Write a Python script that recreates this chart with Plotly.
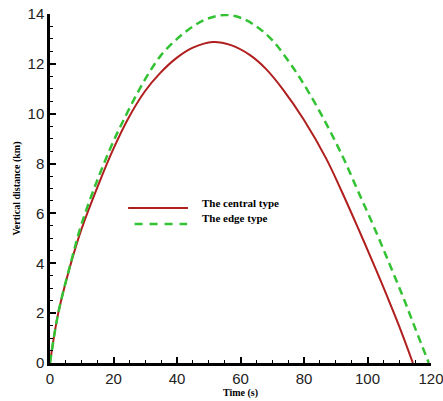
import plotly.graph_objects as go

# Data
t_central = [0, 2.6, 6.6, 10, 15.7, 20, 24.6, 29.9, 34.6, 40, 45, 51.3, 57, 63, 68, 73.4, 80, 87, 92, 97, 102, 106, 110, 114.3]
y_central = [0, 2.0, 4.0, 5.4, 7.3, 8.6, 9.8, 10.9, 11.62, 12.25, 12.65, 12.88, 12.75, 12.35, 11.8, 10.97, 9.75, 8.2, 6.85, 5.42, 3.95, 2.73, 1.47, 0]

t_edge = [0, 2.6, 6.6, 10, 15.1, 20, 23, 27.4, 31, 35, 40, 45, 50, 55.1, 60, 65, 70, 76, 81.3, 87, 92.3, 97, 102.4, 107, 111.2, 115, 119.3]
y_edge = [0, 2.0, 4.05, 5.6, 7.4, 8.9, 9.7, 10.8, 11.6, 12.35, 13.0, 13.5, 13.83, 13.96, 13.85, 13.5, 12.95, 11.95, 10.9, 9.6, 8.25, 6.9, 5.35, 3.95, 2.65, 1.4, 0]

series_names = ["The central type", "The edge type"]
x_ticks = [0, 20, 40, 60, 80, 100, 120]
y_ticks = [0, 2, 4, 6, 8, 10, 12, 14]

RED = "#B01E1E"
GREEN = "#33C233"

fig = go.Figure()
fig.add_trace(go.Scatter(x=t_central, y=y_central, mode="lines", name=series_names[0],
                         line=dict(color=RED, width=2, shape="spline", smoothing=1.0)))
fig.add_trace(go.Scatter(x=t_edge, y=y_edge, mode="lines", name=series_names[1],
                         line=dict(color=GREEN, width=2.5, dash="8px,5px", shape="spline", smoothing=1.0)))

# legend drawn manually (long sample lines, as in the reference)
fig.add_shape(type="line", xref="paper", yref="paper", x0=0.205, x1=0.362, y0=0.444, y1=0.444,
              line=dict(color=RED, width=2))
fig.add_shape(type="line", xref="paper", yref="paper", x0=0.222, x1=0.36, y0=0.398, y1=0.398,
              line=dict(color=GREEN, width=2.5, dash="8px,7px"))
fig.add_annotation(xref="paper", yref="paper", x=0.394, y=0.458, xanchor="left", yanchor="middle",
                   text="<b>" + series_names[0] + "</b>", showarrow=False,
                   font=dict(family="Liberation Serif", size=11, color="#000"))
fig.add_annotation(xref="paper", yref="paper", x=0.394, y=0.415, xanchor="left", yanchor="middle",
                   text="<b>" + series_names[1] + "</b>", showarrow=False,
                   font=dict(family="Liberation Serif", size=11, color="#000"))

axis_common = dict(showline=True, linecolor="black", linewidth=2.5, ticks="inside", ticklen=6,
                   tickwidth=2, tickcolor="black", showgrid=False, zeroline=False, mirror=False,
                   automargin=False, ticklabeloverflow="allow",
                   tickfont=dict(family="Liberation Sans", size=15, color="#222"))

fig.update_xaxes(range=[0, 120], tickvals=x_ticks,
                 minor=dict(ticks="inside", ticklen=3, tickwidth=1, dtick=5, tick0=0, tickcolor="black"),
                 title=dict(text="<b>Time (s)</b>", font=dict(family="Liberation Serif", size=10, color="#000"),
                            standoff=3),
                 **axis_common)
fig.update_yaxes(range=[0, 14], tickvals=y_ticks,
                 minor=dict(ticks="inside", ticklen=3, tickwidth=1, dtick=0.5, tick0=0, tickcolor="black"),
                 title=dict(text="<b>Vertical distance (km)</b>", font=dict(family="Liberation Serif", size=10, color="#000"),
                            standoff=6),
                 **axis_common)

fig.update_layout(width=443, height=401, margin=dict(l=50, r=12, t=14, b=38),
                  paper_bgcolor="white", plot_bgcolor="white", showlegend=False)

fig.write_html("out.html")
